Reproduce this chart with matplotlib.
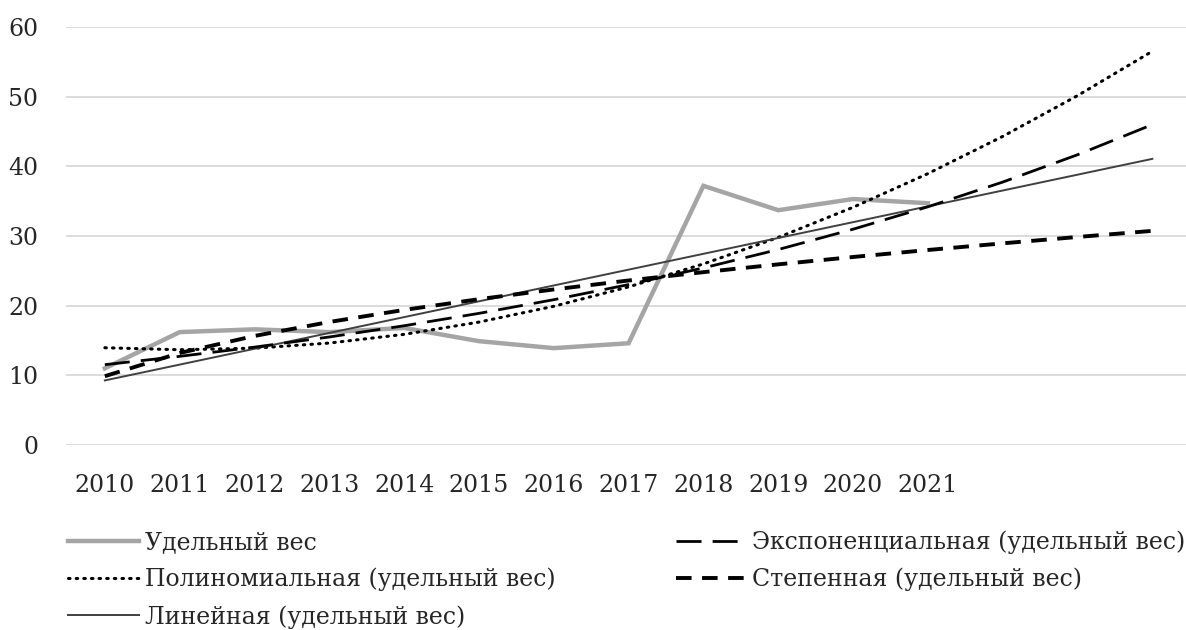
import numpy as np
import matplotlib
matplotlib.use('Agg')
import matplotlib.pyplot as plt

plt.rcParams['font.family'] = ['DejaVu Serif']

years = ['2010', '2011', '2012', '2013', '2014', '2015', '2016', '2017',
         '2018', '2019', '2020', '2021']
share = [11.0, 16.2, 16.6, 16.2, 16.8, 14.9, 13.9, 14.6, 37.2, 33.7, 35.3, 34.7]
forecast = 3  # периоды прогноза линий тренда

# Линии тренда как в Excel: x = 1..n
x = np.arange(1, len(share) + 1)
y = np.array(share)
xt = np.arange(1, len(share) + forecast + 1)

lin = np.polyval(np.polyfit(x, y, 1), xt)
poly = np.polyval(np.polyfit(x, y, 2), xt)
b, a = np.polyfit(x, np.log(y), 1)
expo = np.exp(a) * np.exp(b * xt)
pb, pa = np.polyfit(np.log(x), np.log(y), 1)
power = np.exp(pa) * xt ** pb

fig = plt.figure(figsize=(11.86, 6.3), dpi=100)
ax = fig.add_axes([0.0556, 0.2937, 0.9444, 0.6635])

pos = np.arange(len(share))
pos_t = np.arange(len(xt))

h_share, = ax.plot(pos, share, color='#a5a5a5', linewidth=3.2, solid_joinstyle='miter',
                   label='Удельный вес', zorder=2)
h_poly, = ax.plot(pos_t, poly, color='black', linewidth=2.2, linestyle=(0, (0.5, 2.0)),
                  dash_capstyle='round', label='Полиномиальная (удельный вес)', zorder=3)
h_lin, = ax.plot(pos_t, lin, color='#404040', linewidth=1.4,
                 label='Линейная (удельный вес)', zorder=3)
h_exp, = ax.plot(pos_t, expo, color='black', linewidth=2.0, linestyle=(0, (9, 4)),
                 label='Экспоненциальная (удельный вес)', zorder=3)
h_pow, = ax.plot(pos_t, power, color='black', linewidth=2.8, linestyle=(0, (4, 2.7)),
                 label='Степенная (удельный вес)', zorder=3)

ax.set_xlim(-0.52, 14.45)
ax.set_ylim(0, 60)
ax.set_yticks(range(0, 61, 10))
ax.set_xticks(pos)
ax.set_xticklabels(years)
ax.grid(axis='y', color='#d9d9d9', linewidth=1.3)
ax.set_axisbelow(True)
for s in ax.spines.values():
    s.set_visible(False)
ax.tick_params(axis='both', length=0, labelsize=17, colors='#262626')
ax.tick_params(axis='y', pad=20)
ax.tick_params(axis='x', pad=21)

fig.legend(handles=[h_share, h_poly, h_lin, h_exp, h_pow], ncol=2,
           loc='upper left', bbox_to_anchor=(0.0393, 0.192), frameon=False,
           fontsize=17, handlelength=3.0, handletextpad=0.25,
           columnspacing=5.1, labelspacing=0.59, labelcolor='#262626')

fig.savefig('out.png', dpi=100)
